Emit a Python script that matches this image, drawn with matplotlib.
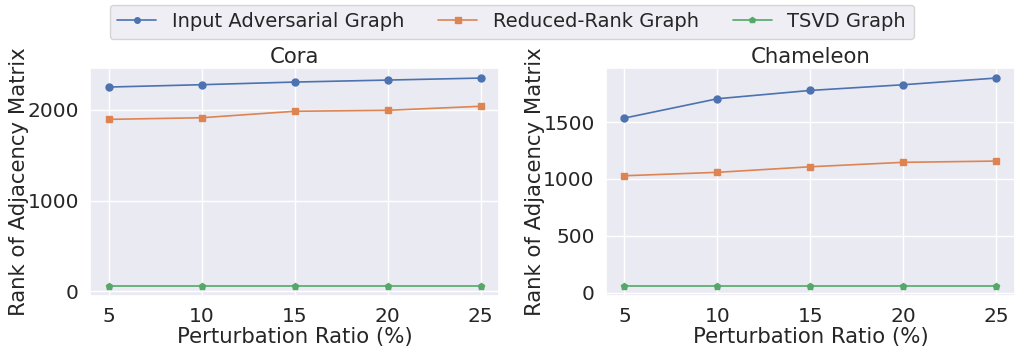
import numpy as np
import seaborn as sns
from matplotlib import pyplot as plt

ratios = [5, 10, 15, 20, 25]

cora_input = [2252, 2278, 2307, 2329, 2351]
cora_reduced = [1896, 1914, 1985, 1996, 2040]
cora_tsvd = [58, 58, 58, 58, 58]

cham_input = [1535, 1705, 1778, 1828, 1887]
cham_reduced = [1028, 1058, 1107, 1146, 1157]
cham_tsvd = [58, 58, 58, 58, 58]

series_names = ["Input Adversarial Graph", "Reduced-Rank Graph", "TSVD Graph"]
markers = ["o", "s", "p"]

sns.set_theme(style="darkgrid")
plt.rcParams['font.family'] = ['DejaVu Sans']

fig, axes = plt.subplots(1, 2, figsize=(10.15, 3.47), dpi=100)
colors = sns.color_palette("deep")

panels = [
    ("Cora", [cora_input, cora_reduced, cora_tsvd], [0, 1000, 2000], (-46, 2458)),
    ("Chameleon", [cham_input, cham_reduced, cham_tsvd], [0, 500, 1000, 1500], (-26, 1972)),
]

for ax, (title, data, yticks, ylim) in zip(axes, panels):
    for i, vals in enumerate(data):
        ax.plot(ratios, vals, marker=markers[i], color=colors[i], label=series_names[i],
                markersize=5, linewidth=1.2)
    ax.set_title(title, fontsize=15.3, pad=4)
    ax.set_xlabel("Perturbation Ratio (%)", fontsize=15.3, labelpad=1)
    ax.set_ylabel("Rank of Adjacency Matrix", fontsize=15.3, labelpad=-1)
    ax.set_xticks(ratios)
    ax.set_yticks(yticks)
    ax.set_ylim(*ylim)
    ax.set_xlim(4, 26)
    ax.tick_params(labelsize=14.5, pad=2)

handles, labels = axes[0].get_legend_handles_labels()
fig.legend(handles, labels, loc="upper center", ncol=3, fontsize=14,
           bbox_to_anchor=(0.504, 1.015), frameon=True, columnspacing=1.75,
           markerscale=0.8)

fig.subplots_adjust(left=0.0887, right=1.0, top=0.803, bottom=0.148, wspace=0.261)
fig.savefig("out.png", dpi=100)
